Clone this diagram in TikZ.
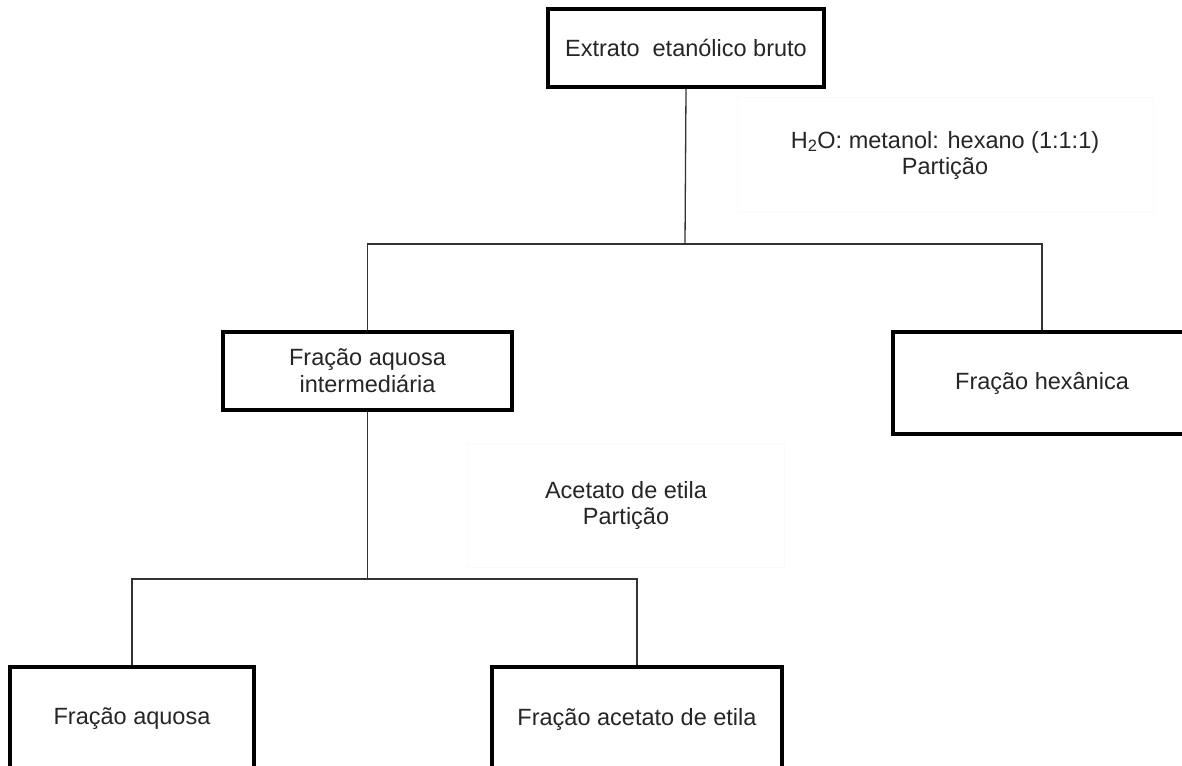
\documentclass[tikz,border=0pt]{standalone}
\usepackage{fontspec}
\setmainfont{Liberation Sans}
\begin{document}
\begin{tikzpicture}[x=1pt,y=1pt,
  box/.style={draw=black, line width=3.8pt, inner sep=0pt, align=center,
    font=\fontsize{23.5}{27}\selectfont, text=black!85},
  conn/.style={line width=1.3pt, draw=black!80},
  lbl/.style={draw=black!2, line width=0.6pt, inner sep=0pt, align=center,
    font=\fontsize{23.5}{26}\selectfont, text=black!85}]
\useasboundingbox (0,0) rectangle (1182,-765);
\fill[white] (0,0) rectangle (1182,-765);
\clip (0,0) rectangle (1182,-765);

\node[box, minimum width=276pt, minimum height=78pt] (top) at (686,-48) {Extrato \ etanólico bruto};
\node[box, minimum width=289pt, minimum height=78pt] (inter) at (367.5,-371) {Fração aquosa\\intermediária};
\node[box, minimum width=298pt, minimum height=102pt] (hex) at (1042,-383) {Fração hexânica};
\node[box, minimum width=244pt, minimum height=104pt] (aq) at (132,-719) {Fração aquosa};
\node[box, minimum width=290pt, minimum height=104pt] (acet) at (637,-719) {Fração acetato de etila};

\node[lbl, minimum width=416pt, minimum height=115pt] (l1) at (945,-155) {H\textsubscript{2}O: metanol: hexano (1:1:1)\\Partição};
\node[lbl, minimum width=317pt, minimum height=124pt] (l2) at (626,-505) {Acetato de etila\\Partição};

\coordinate (j1) at (685,-244);
\coordinate (j2) at (367.5,-579);

\draw[conn] (top.south) -- (j1);
\draw[conn] (inter.north) |- (j1) -| (hex.north);
\draw[conn] (inter.south) -- (j2);
\draw[conn] (aq.north) |- (j2) -| (acet.north);
\end{tikzpicture}
\end{document}
